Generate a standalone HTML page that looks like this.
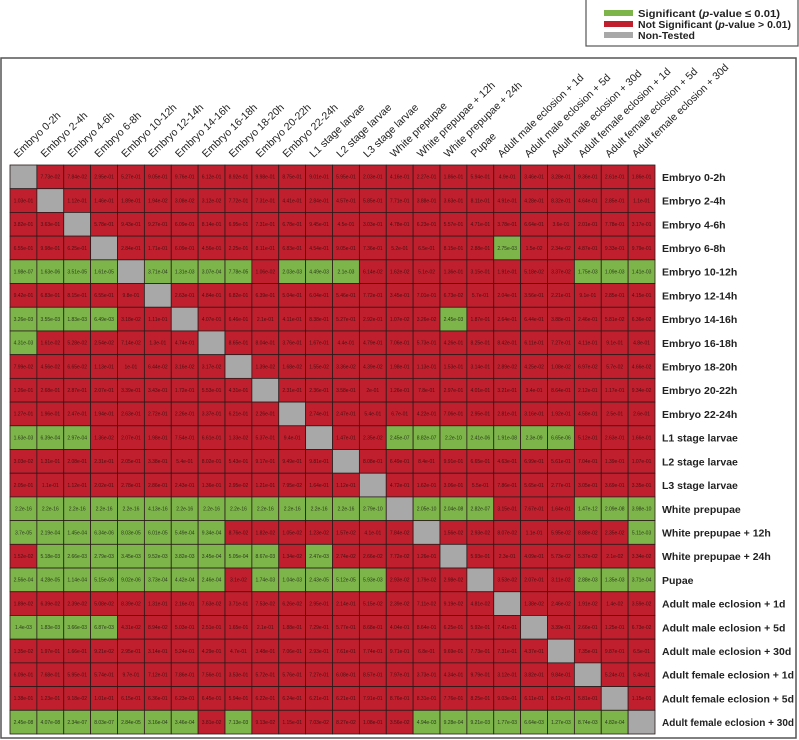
<!DOCTYPE html>
<html><head><meta charset="utf-8"><style>
html,body{margin:0;padding:0;background:#fff;width:799px;height:740px;overflow:hidden}
svg{display:block;font-family:"Liberation Sans",sans-serif}
</style></head><body>
<svg id="chart" width="799" height="740" viewBox="0 0 799 740">
<rect x="1" y="58" width="795" height="680" fill="#fff" stroke="#555" stroke-width="1.5"/>
<g>
<rect x="586" y="-1" width="212" height="47" fill="#fff" stroke="#555" stroke-width="1.2"/>
<rect x="604" y="10" width="29" height="6" fill="#7db54b"/>
<text x="638" y="17" font-size="10.5" font-weight="bold" fill="#222" textLength="142" lengthAdjust="spacingAndGlyphs">Significant (<tspan font-style="italic">p</tspan>-value ≤ 0.01)</text>
<rect x="604" y="21" width="29" height="6" fill="#c0202e"/>
<text x="638" y="28" font-size="10.5" font-weight="bold" fill="#222" textLength="153" lengthAdjust="spacingAndGlyphs">Not Significant (<tspan font-style="italic">p</tspan>-value &gt; 0.01)</text>
<rect x="604" y="32" width="29" height="6" fill="#a8a8a8"/>
<text x="638" y="39" font-size="10.5" font-weight="bold" fill="#222">Non-Tested</text>
</g>
<g id="cells"></g>
<g id="collabels"></g>
<g id="rowlabels"></g>
</svg>
<script>
const stages = ["Embryo 0-2h","Embryo 2-4h","Embryo 4-6h","Embryo 6-8h","Embryo 10-12h","Embryo 12-14h","Embryo 14-16h","Embryo 16-18h","Embryo 18-20h","Embryo 20-22h","Embryo 22-24h","L1 stage larvae","L2 stage larvae","L3 stage larvae","White prepupae","White prepupae + 12h","White prepupae + 24h","Pupae","Adult male eclosion + 1d","Adult male eclosion + 5d","Adult male eclosion + 30d","Adult female eclosion + 1d","Adult female eclosion + 5d","Adult female eclosion + 30d"];
const threshold = 0.01;
const pvalues = [
[null,7.73e-02,7.84e-02,2.95e-01,5.27e-01,9.05e-01,9.76e-01,6.12e-01,8.92e-01,9.98e-01,8.75e-01,9.01e-01,5.95e-01,2.03e-01,4.16e-01,2.27e-01,1.86e-01,5.94e-01,4.9e-01,3.46e-01,3.28e-01,9.36e-01,2.61e-01,1.86e-01],
[1.03e-01,null,1.12e-01,1.46e-01,1.89e-01,1.94e-02,3.08e-02,3.12e-02,7.72e-01,7.31e-01,4.41e-01,2.84e-01,4.57e-01,5.85e-01,7.71e-01,3.88e-01,3.63e-01,8.11e-01,4.91e-01,4.28e-01,8.32e-01,4.64e-01,2.85e-01,1.1e-01],
[3.82e-01,3.63e-01,null,5.78e-01,9.43e-01,9.27e-01,6.09e-01,8.14e-01,6.95e-01,7.31e-01,6.78e-01,9.45e-01,4.5e-01,3.03e-01,4.78e-01,6.23e-01,5.57e-01,4.71e-01,3.78e-01,6.64e-01,3.6e-01,2.01e-01,7.78e-01,3.17e-01],
[6.55e-01,9.98e-01,6.25e-01,null,2.84e-01,1.71e-01,6.09e-01,4.56e-01,2.25e-01,8.11e-01,6.83e-01,4.54e-01,9.05e-01,7.36e-01,5.2e-01,6.5e-01,8.15e-01,2.88e-01,2.75e-03,1.5e-02,2.34e-02,4.87e-01,9.33e-01,9.79e-01],
[1.98e-07,1.63e-06,3.51e-05,1.61e-05,null,3.71e-04,1.31e-03,3.07e-04,7.78e-05,1.06e-02,2.03e-03,4.49e-03,2.1e-03,6.14e-02,1.62e-02,5.1e-02,1.36e-01,3.15e-01,1.91e-01,5.18e-02,3.37e-02,1.75e-03,1.09e-03,1.41e-03],
[9.42e-01,6.83e-01,8.15e-01,6.55e-01,9.8e-01,null,2.63e-01,4.84e-01,6.82e-01,6.39e-01,5.04e-01,6.04e-01,5.46e-01,7.72e-01,3.45e-01,7.01e-01,6.73e-02,5.7e-01,2.04e-01,3.56e-01,2.21e-01,9.1e-01,2.85e-01,4.15e-01],
[3.26e-03,3.55e-03,1.83e-03,6.49e-03,3.18e-02,1.11e-01,null,4.07e-01,6.46e-01,2.1e-01,4.11e-01,8.38e-01,5.27e-01,2.92e-01,1.07e-02,3.26e-02,2.45e-03,1.87e-01,2.64e-01,6.44e-01,3.88e-01,2.46e-01,5.81e-02,6.36e-02],
[4.31e-03,1.61e-02,5.28e-02,2.54e-02,7.14e-02,1.3e-01,4.74e-01,null,8.65e-01,8.04e-01,3.76e-01,1.67e-01,4.4e-01,4.79e-01,7.06e-01,5.73e-01,4.26e-01,8.25e-01,8.42e-01,6.11e-01,7.27e-01,4.11e-01,9.1e-01,4.8e-01],
[7.99e-02,4.56e-02,6.65e-02,1.13e-01,1e-01,6.44e-02,3.16e-02,3.17e-02,null,1.39e-02,1.68e-02,1.55e-02,3.36e-02,4.39e-02,1.98e-01,1.13e-01,1.53e-01,3.14e-01,2.89e-02,4.25e-02,1.08e-02,6.97e-02,5.7e-02,4.66e-02],
[1.26e-01,2.68e-01,2.87e-01,2.07e-01,3.39e-01,3.43e-01,1.72e-01,5.53e-01,4.31e-01,null,2.31e-01,2.36e-01,3.58e-01,2e-01,1.26e-01,7.8e-01,2.97e-01,4.01e-01,3.21e-01,3.4e-01,8.64e-01,2.12e-01,1.17e-01,9.34e-02],
[1.27e-01,1.96e-01,2.47e-01,1.94e-01,2.63e-01,2.72e-01,2.26e-01,3.37e-01,6.21e-01,2.26e-01,null,2.74e-01,2.47e-01,5.4e-01,6.7e-01,4.22e-01,7.06e-01,2.95e-01,2.81e-01,3.16e-01,1.92e-01,4.58e-01,2.5e-01,2.6e-01],
[1.63e-03,6.39e-04,2.97e-04,1.36e-02,2.07e-01,1.98e-01,7.54e-01,6.61e-01,1.33e-02,5.37e-01,9.4e-01,null,1.47e-01,2.35e-02,2.45e-07,8.82e-07,2.2e-10,2.41e-06,1.91e-08,2.3e-09,6.65e-06,5.12e-01,2.63e-01,1.66e-01],
[3.03e-02,1.31e-01,2.08e-01,2.31e-01,2.05e-01,3.38e-01,5.4e-01,8.02e-01,5.43e-01,9.17e-01,9.49e-01,9.81e-01,null,8.08e-01,6.49e-01,8.4e-01,9.91e-01,6.65e-01,4.63e-01,6.99e-01,5.61e-01,7.04e-01,1.39e-01,1.07e-01],
[2.05e-01,1.1e-01,1.12e-01,2.02e-01,2.78e-01,2.86e-01,2.43e-01,1.36e-01,2.95e-02,1.21e-01,7.95e-02,1.64e-01,1.12e-01,null,4.72e-01,1.62e-01,3.06e-01,5.5e-01,7.86e-01,5.65e-01,2.77e-01,3.05e-01,3.69e-01,3.35e-01],
[2.2e-16,2.2e-16,2.2e-16,2.2e-16,2.2e-16,4.13e-16,2.2e-16,2.2e-16,2.2e-16,2.2e-16,2.2e-16,2.2e-16,2.2e-16,2.79e-10,null,2.05e-10,2.04e-08,2.82e-07,3.15e-01,7.67e-01,1.64e-01,1.47e-12,2.09e-08,3.98e-10],
[3.7e-05,2.19e-04,1.45e-04,6.34e-06,8.03e-05,6.01e-05,5.49e-04,9.34e-04,8.76e-02,1.82e-02,1.05e-02,1.23e-02,1.57e-02,4.1e-01,7.84e-02,null,1.56e-02,2.93e-02,8.07e-02,1.1e-01,5.95e-02,8.88e-02,2.35e-02,5.11e-03],
[1.52e-02,5.18e-03,2.66e-03,2.79e-03,3.45e-03,9.52e-03,3.82e-03,3.45e-04,5.05e-04,8.67e-03,1.34e-02,2.47e-03,2.74e-02,2.66e-02,7.72e-02,1.26e-01,null,5.93e-01,2.3e-01,4.09e-01,5.73e-02,5.37e-02,2.1e-02,3.34e-02],
[2.56e-04,4.28e-05,1.14e-04,5.15e-06,9.02e-06,3.73e-04,4.42e-04,2.46e-04,3.1e-02,1.74e-03,1.04e-03,2.43e-05,5.12e-05,5.93e-03,2.93e-02,1.79e-02,2.98e-02,null,3.53e-02,2.07e-01,3.11e-02,2.88e-03,1.35e-03,3.71e-04],
[1.89e-02,6.39e-02,2.39e-02,5.08e-02,8.39e-02,1.31e-01,2.16e-01,7.63e-02,3.71e-01,7.53e-02,6.26e-02,2.95e-01,2.14e-01,5.15e-02,2.39e-02,7.11e-02,9.19e-02,4.81e-02,null,1.38e-02,2.46e-02,1.91e-02,1.4e-02,3.59e-02],
[1.4e-03,1.83e-03,3.66e-03,6.87e-03,4.31e-02,8.94e-02,5.03e-01,2.51e-01,1.65e-01,2.1e-01,1.88e-01,7.29e-01,5.77e-01,8.68e-01,4.04e-01,8.64e-01,6.25e-01,5.92e-01,7.41e-01,null,3.39e-01,2.66e-01,1.25e-01,6.73e-02],
[1.35e-02,1.97e-01,1.66e-01,9.21e-02,2.95e-01,3.14e-01,5.24e-01,4.29e-01,4.7e-01,3.48e-01,7.06e-01,2.93e-01,7.61e-01,7.74e-01,9.71e-01,6.8e-01,9.69e-01,7.73e-01,7.31e-01,4.37e-01,null,7.35e-01,9.87e-01,6.5e-01],
[6.09e-01,7.68e-01,5.95e-01,5.74e-01,9.7e-01,7.12e-01,7.86e-01,7.56e-01,3.53e-01,5.72e-01,5.76e-01,7.27e-01,6.08e-01,8.57e-01,7.97e-01,3.73e-01,4.34e-01,9.79e-01,3.12e-01,3.82e-01,9.84e-01,null,5.24e-01,5.4e-01],
[1.38e-01,1.23e-01,9.18e-02,1.01e-01,6.15e-01,6.36e-01,6.23e-01,6.45e-01,5.94e-01,6.22e-01,6.24e-01,6.21e-01,6.21e-01,7.91e-01,8.76e-01,8.31e-01,7.76e-01,8.25e-01,9.03e-01,6.11e-01,8.12e-01,5.81e-01,null,1.15e-01],
[2.45e-08,4.07e-08,2.34e-07,8.03e-07,2.84e-05,3.16e-04,3.46e-04,3.81e-02,7.13e-03,9.13e-02,1.15e-01,7.03e-02,8.27e-02,1.08e-01,3.56e-02,4.94e-03,9.28e-04,9.21e-03,1.77e-03,6.64e-03,1.27e-03,8.74e-03,4.82e-04,null]
];
const NS="http://www.w3.org/2000/svg";
const X0=10, Y0=165, W=645, H=569;
const cw=W/stages.length, ch=H/stages.length;
function xPos(c){return X0+c*cw;}
function yPos(r){return Y0+r*ch;}
function fmt(v){let s=v.toExponential(2);let [m,e]=s.split("e");m=m.replace(/\.?0+$/,"");let n=parseInt(e,10);let sign=n<0?"-":"+";n=Math.abs(n);return m+"e"+sign+(n<10?"0"+n:n);}
const gC=document.getElementById("cells");
pvalues.forEach((row,r)=>{row.forEach((v,c)=>{
  const rect=document.createElementNS(NS,"rect");
  rect.setAttribute("x",xPos(c));rect.setAttribute("y",yPos(r));
  rect.setAttribute("width",cw);rect.setAttribute("height",ch);
  rect.setAttribute("fill",v===null?"#a8a8a8":(v<=threshold?"#7db54b":"#c0202e"));
  rect.setAttribute("stroke","#2a1a1a");rect.setAttribute("stroke-width","0.8");
  
  
  gC.appendChild(rect);
  if(v!==null){
    const t=document.createElementNS(NS,"text");
    t.setAttribute("x",xPos(c)+cw/2);t.setAttribute("y",yPos(r)+ch/2+1.8);
    t.setAttribute("font-size","5");t.setAttribute("text-anchor","middle");
    t.setAttribute("fill",v<=threshold?"#2a3a1a":"#4a0e12");
    t.textContent=fmt(v);
    
    
    gC.appendChild(t);
  }
});});
const gCol=document.getElementById("collabels");
stages.forEach((s,c)=>{
  const t=document.createElementNS(NS,"text");
  const x=xPos(c)+8, y=Y0-7;
  t.setAttribute("x",x);t.setAttribute("y",y);
  t.setAttribute("transform","rotate(-44 "+x+" "+y+")");
  t.setAttribute("font-size","10.5");t.setAttribute("fill","#222");
  t.textContent=s;
  
  
  gCol.appendChild(t);
});
const gRow=document.getElementById("rowlabels");
stages.forEach((s,r)=>{
  const t=document.createElementNS(NS,"text");
  t.setAttribute("x",662);t.setAttribute("y",yPos(r)+ch/2+4);
  t.setAttribute("font-size","10.5");t.setAttribute("font-weight","bold");t.setAttribute("fill","#222");
  t.textContent=s;
  
  
  gRow.appendChild(t);
  const len=t.getComputedTextLength();
  if(len>132){t.setAttribute("textLength","132");t.setAttribute("lengthAdjust","spacingAndGlyphs");}
});
</script>
</body></html>
